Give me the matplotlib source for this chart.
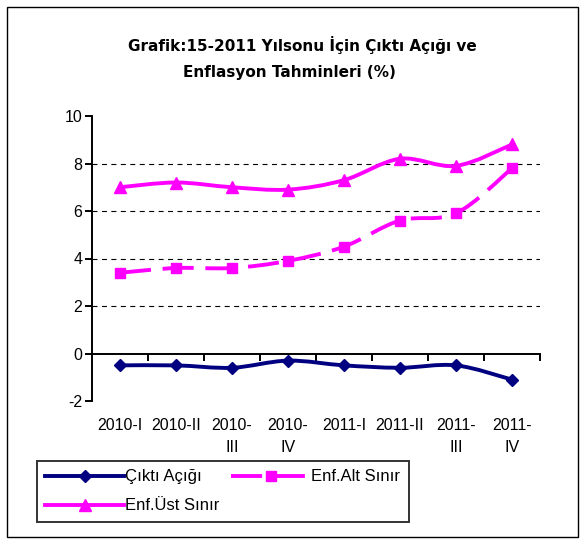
import matplotlib.pyplot as plt
from matplotlib.path import Path
from matplotlib.patches import PathPatch, Rectangle
from matplotlib.lines import Line2D
import matplotlib.transforms as mtransforms

plt.rcParams['font.family'] = ['Liberation Sans', 'DejaVu Sans']
plt.rcParams['axes.unicode_minus'] = False

donemler = ['2010-I', '2010-II', '2010-\nIII', '2010-\nIV',
            '2011-I', '2011-II', '2011-\nIII', '2011-\nIV']
cikti_acigi = [-0.5, -0.5, -0.6, -0.3, -0.5, -0.6, -0.5, -1.1]
enf_alt = [3.4, 3.6, 3.6, 3.9, 4.5, 5.6, 5.9, 7.8]
enf_ust = [7.0, 7.2, 7.0, 6.9, 7.3, 8.2, 7.9, 8.8]

LACIVERT = '#000080'
PEMBE = '#FF00FF'


def yumusak_yol(xs, ys):
    # excel tarzı yumuşatılmış çizgi (catmull-rom -> bezier)
    n = len(xs)
    verts = [(xs[0], ys[0])]
    codes = [Path.MOVETO]
    for i in range(n - 1):
        x0, y0 = (xs[i - 1], ys[i - 1]) if i > 0 else (xs[i], ys[i])
        x1, y1 = xs[i], ys[i]
        x2, y2 = xs[i + 1], ys[i + 1]
        x3, y3 = (xs[i + 2], ys[i + 2]) if i + 2 < n else (x2, y2)
        verts += [(x1 + (x2 - x0) / 6, y1 + (y2 - y0) / 6),
                  (x2 - (x3 - x1) / 6, y2 - (y3 - y1) / 6),
                  (x2, y2)]
        codes += [Path.CURVE4] * 3
    return Path(verts, codes)


fig = plt.figure(figsize=(5.84, 5.47), dpi=100)
ax = fig.add_axes([92 / 584, 1 - 401 / 547, 448 / 584, 285 / 547])

x = list(range(len(donemler)))

ax.set_xlim(-0.5, len(donemler) - 0.5)
ax.set_ylim(-2, 10)

# grid
for g in [2, 4, 6, 8]:
    ax.axhline(g, color='black', lw=0.8, ls=(0, (4.5, 4)), zorder=1)

seriler = [
    (cikti_acigi, LACIVERT, 'D', 6, '-', 'Çıktı Açığı'),
    (enf_alt, PEMBE, 's', 7.5, (0, (8, 3)), 'Enf.Alt Sınır'),
    (enf_ust, PEMBE, '^', 8.5, '-', 'Enf.Üst Sınır'),
]
handles = {}
for ys, renk, mk, ms, ls, ad in seriler:
    patch = PathPatch(yumusak_yol(x, ys), fill=False, edgecolor=renk,
                      lw=2.8, linestyle=ls, zorder=3, capstyle='butt')
    ax.add_patch(patch)
    ax.plot(x, ys, linestyle='none', marker=mk, ms=ms, color=renk, zorder=4)
    handles[ad] = Line2D([], [], color=renk, lw=2.8, linestyle=ls,
                         marker=mk, ms=ms)

# eksenler
ax.spines['top'].set_visible(False)
ax.spines['right'].set_visible(False)
ax.spines['bottom'].set_position(('data', 0))
ax.spines['bottom'].set_linewidth(1.4)
ax.spines['left'].set_linewidth(1.4)
ax.set_yticks(range(-2, 11, 2))
ax.tick_params(axis='y', direction='out', length=5, width=1.4,
               labelsize=11.5, pad=2)
ax.set_xticks([i + 0.5 for i in x])
ax.set_xticklabels([])
ax.tick_params(axis='x', direction='out', length=5, width=1.4)

trans = mtransforms.blended_transform_factory(ax.transData, ax.transAxes)
for i, lab in enumerate(donemler):
    ax.text(i, -0.06, lab, transform=trans, ha='center', va='top',
            fontsize=11.5, linespacing=1.6)

fig.text(302 / 584, 1 - 45 / 547, 'Grafik:15-2011 Yılsonu İçin Çıktı Açığı ve',
         ha='center', va='center', fontsize=11, fontweight='bold',
         family='DejaVu Sans')
fig.text(289 / 584, 1 - 72 / 547, 'Enflasyon Tahminleri (%)',
         ha='center', va='center', fontsize=11, fontweight='bold',
         family='DejaVu Sans')

leg = fig.legend([handles['Çıktı Açığı'], handles['Enf.Üst Sınır'],
                  handles['Enf.Alt Sınır']],
                 ['Çıktı Açığı', 'Enf.Üst Sınır', 'Enf.Alt Sınır'],
                 ncol=2, loc='upper left',
                 bbox_to_anchor=(37 / 584, 1 - 461 / 547),
                 fontsize=12, handlelength=4.7, handletextpad=0.1,
                 columnspacing=0.7, labelspacing=0.85, numpoints=1,
                 fancybox=False, borderpad=0.5, borderaxespad=0)
leg.get_frame().set_edgecolor('black')
leg.get_frame().set_linewidth(1.4)

fig.patches.append(Rectangle((7 / 584, 1 - 537 / 547), 571 / 584, 530 / 547,
                             transform=fig.transFigure, fill=False,
                             edgecolor='black', lw=1))

fig.savefig('out.png', dpi=100)
